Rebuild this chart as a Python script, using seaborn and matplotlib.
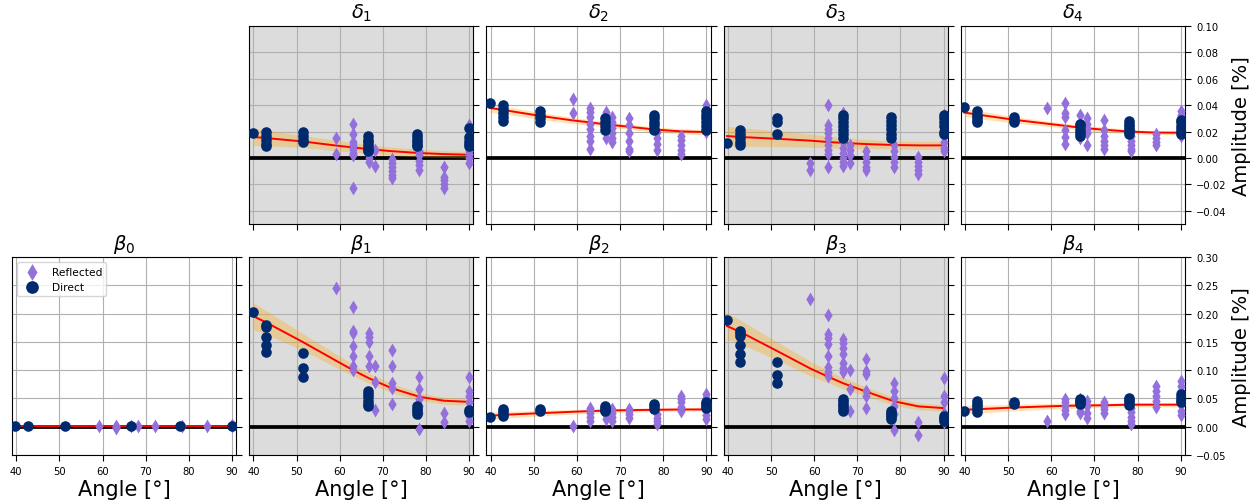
import seaborn as sns
import pandas as pd
import matplotlib.pyplot as plt

# angles (deg) where each kind of measurement was taken
direct_angles = [39.8, 42.8, 51.4, 66.6, 77.9, 90.0]
reflected_angles = [59.1, 63.1, 66.7, 68.2, 72.1, 78.5, 84.2, 90.0]
fit_angles = [39.8, 42.8, 51.4, 59.1, 63.1, 66.7, 72.1, 78.5, 84.2, 90.0]

# delta coefficients
d1_direct = [[0.019], [0.020, 0.017, 0.014, 0.011, 0.009], [0.020, 0.017, 0.014, 0.012],
             [0.017, 0.014, 0.012, 0.010, 0.008, 0.006, 0.005],
             [0.018, 0.016, 0.014, 0.012, 0.010, 0.009], [0.023, 0.016, 0.013, 0.011, 0.009]]
d1_reflected = [[0.015, 0.003], [0.026, 0.018, 0.012, 0.010, 0.007, 0.004, 0.002, -0.023],
                [0.010, 0.006, 0.003, 0.000, -0.003], [0.006, -0.006],
                [-0.0005, -0.004, -0.007, -0.010, -0.013, -0.015],
                [0.005, 0.002, -0.002, -0.005, -0.009], [-0.007, -0.014, -0.017, -0.020, -0.023],
                [0.025, 0.005, 0.003, 0.000, -0.004]]
d1_fit = [0.016, 0.0152, 0.0126, 0.0095, 0.008, 0.0068, 0.0052, 0.0038, 0.003, 0.0025]
d1_band = [0.0065, 0.006, 0.0045, 0.004, 0.0035, 0.0035, 0.003, 0.003, 0.0025, 0.0025]

d2_direct = [[0.0417], [0.040, 0.037, 0.034, 0.031, 0.028], [0.036, 0.033, 0.030, 0.027],
             [0.030, 0.027, 0.024, 0.021], [0.033, 0.030, 0.027, 0.025, 0.022, 0.021],
             [0.036, 0.033, 0.030, 0.027, 0.024, 0.021]]
d2_reflected = [[0.045, 0.034], [0.038, 0.035, 0.031, 0.026, 0.022, 0.017, 0.013, 0.007],
                [0.035, 0.032, 0.020, 0.015], [0.031, 0.027, 0.023, 0.019, 0.015, 0.012],
                [0.030, 0.025, 0.019, 0.013, 0.007, 0.005], [0.020, 0.015, 0.011, 0.006],
                [0.017, 0.014, 0.010, 0.006, 0.003], [0.040, 0.035, 0.029, 0.024, 0.020]]
d2_fit = [0.038, 0.0365, 0.032, 0.0285, 0.027, 0.0255, 0.0237, 0.0215, 0.0202, 0.0197]
d2_band = [0.0035, 0.003, 0.0025, 0.0025, 0.002, 0.002, 0.002, 0.002, 0.002, 0.002]

d3_direct = [[0.0116], [0.021, 0.018, 0.015, 0.012, 0.010], [0.030, 0.027, 0.018],
             [0.033, 0.030, 0.027, 0.024, 0.021, 0.018, 0.015],
             [0.031, 0.028, 0.025, 0.022, 0.018, 0.015], [0.033, 0.030, 0.027, 0.024, 0.020, 0.018]]
d3_reflected = [[-0.004, -0.009], [0.040, 0.025, 0.022, 0.019, 0.015, 0.010, 0.006, 0.003, -0.007],
                [0.034, 0.012, 0.008, 0.004, 0.000, -0.003, -0.006], [0.010, 0.006, 0.002, -0.004],
                [0.005, 0.001, -0.003, -0.007, -0.009], [0.010, 0.005, 0.001, -0.003, -0.007],
                [0.001, -0.003, -0.006, -0.009, -0.012], [0.033, 0.028, 0.012, 0.008, 0.005]]
d3_fit = [0.0167, 0.016, 0.0146, 0.0132, 0.0122, 0.0115, 0.0106, 0.0099, 0.0096, 0.0096]
d3_band = [0.0075, 0.007, 0.006, 0.005, 0.0045, 0.004, 0.0035, 0.003, 0.003, 0.003]

d4_direct = [[0.0386], [0.036, 0.033, 0.031, 0.029, 0.027], [0.031, 0.029, 0.027],
             [0.026, 0.024, 0.021, 0.019, 0.017], [0.028, 0.026, 0.024, 0.022, 0.020, 0.018],
             [0.029, 0.027, 0.024, 0.022, 0.020, 0.018]]
d4_reflected = [[0.038], [0.042, 0.034, 0.031, 0.021, 0.016, 0.011], [0.033, 0.018, 0.015],
                [0.030, 0.026, 0.022, 0.019, 0.010], [0.029, 0.021, 0.017, 0.013, 0.010, 0.007],
                [0.021, 0.017, 0.013, 0.010, 0.007, 0.005], [0.018, 0.015, 0.012, 0.010],
                [0.036, 0.033, 0.029, 0.017]]
d4_fit = [0.0345, 0.033, 0.029, 0.026, 0.0245, 0.023, 0.0215, 0.020, 0.0193, 0.0192]
d4_band = [0.003, 0.003, 0.0025, 0.002, 0.002, 0.002, 0.002, 0.0015, 0.0015, 0.0015]

# beta coefficients
b0_direct = [[0.001], [0.001], [0.001], [0.001], [0.001], [0.001]]
b0_reflected = [[0.001], [-0.002, 0.000, 0.002], [0.001], [0.001], [0.002], [0.001], [0.002],
                [0.001, 0.003]]
b0_fit = [0.001, 0.001, 0.001, 0.001, 0.001, 0.001, 0.001, 0.001, 0.001, 0.001]
b0_band = [0.0015, 0.0015, 0.0015, 0.0015, 0.0015, 0.0015, 0.0015, 0.0015, 0.0015, 0.0015]

b1_direct = [[0.203], [0.180, 0.177, 0.159, 0.144, 0.133], [0.130, 0.104, 0.088],
             [0.064, 0.058, 0.052, 0.046, 0.040, 0.037], [0.037, 0.032, 0.027, 0.023], [0.029, 0.026]]
b1_reflected = [[0.246], [0.212, 0.170, 0.166, 0.142, 0.125, 0.108, 0.100],
                [0.165, 0.158, 0.149, 0.125, 0.108], [0.108, 0.080, 0.030],
                [0.136, 0.108, 0.078, 0.068, 0.041], [0.088, 0.067, 0.049, 0.037, 0.025, -0.004],
                [0.025, 0.008], [0.088, 0.064, 0.055, 0.043, 0.019, 0.011]]
b1_fit = [0.196, 0.185, 0.150, 0.117, 0.100, 0.086, 0.068, 0.053, 0.046, 0.044]
b1_band = [0.024, 0.021, 0.015, 0.012, 0.010, 0.009, 0.008, 0.007, 0.006, 0.006]

b2_direct = [[0.018], [0.031, 0.027, 0.023, 0.019], [0.031, 0.028], [0.037, 0.034, 0.030, 0.028],
             [0.040, 0.036, 0.031], [0.043, 0.040, 0.037, 0.034]]
b2_reflected = [[0.002], [0.034, 0.030, 0.025, 0.018, 0.011], [0.034, 0.027, 0.020, 0.014],
                [0.031, 0.025, 0.018, 0.010], [0.031, 0.027, 0.022, 0.016],
                [0.022, 0.016, 0.010, 0.004], [0.055, 0.049, 0.043, 0.035, 0.028],
                [0.058, 0.050, 0.040, 0.030, 0.020, 0.014]]
b2_fit = [0.0194, 0.021, 0.024, 0.0265, 0.0277, 0.0285, 0.0294, 0.030, 0.0305, 0.0306]
b2_band = [0.007, 0.006, 0.005, 0.004, 0.004, 0.0035, 0.0035, 0.003, 0.003, 0.003]

b3_direct = [[0.188], [0.170, 0.165, 0.160, 0.144, 0.128, 0.115], [0.115, 0.092, 0.077],
             [0.049, 0.045, 0.040, 0.036, 0.031, 0.027], [0.028, 0.025, 0.021, 0.017, 0.014],
             [0.019, 0.016, 0.013, 0.010]]
b3_reflected = [[0.226], [0.198, 0.164, 0.157, 0.146, 0.125, 0.105, 0.096, 0.090],
                [0.155, 0.148, 0.140, 0.128, 0.112, 0.104, 0.096], [0.100, 0.067, 0.027],
                [0.120, 0.099, 0.093, 0.064, 0.055, 0.033], [0.078, 0.064, 0.050, 0.037, 0.022, -0.005],
                [0.008, -0.015], [0.087, 0.055, 0.043, 0.025, 0.008]]
b3_fit = [0.178, 0.168, 0.134, 0.103, 0.089, 0.077, 0.062, 0.045, 0.036, 0.033]
b3_band = [0.024, 0.021, 0.016, 0.013, 0.011, 0.010, 0.008, 0.007, 0.006, 0.006]

b4_direct = [[0.028], [0.046, 0.041, 0.036, 0.031, 0.026], [0.043, 0.041],
             [0.049, 0.046, 0.043, 0.040], [0.050, 0.047, 0.043, 0.039], [0.058, 0.053, 0.048, 0.043]]
b4_reflected = [[0.011], [0.049, 0.043, 0.036, 0.029, 0.022], [0.049, 0.042, 0.035, 0.028, 0.024],
                [0.046, 0.036, 0.025, 0.015], [0.043, 0.037, 0.031, 0.025],
                [0.034, 0.026, 0.018, 0.010, 0.004], [0.072, 0.063, 0.055, 0.045, 0.035],
                [0.081, 0.072, 0.063, 0.050, 0.038, 0.028, 0.020]]
b4_fit = [0.030, 0.031, 0.034, 0.036, 0.037, 0.0375, 0.038, 0.039, 0.039, 0.039]
b4_band = [0.008, 0.007, 0.006, 0.005, 0.005, 0.0045, 0.004, 0.004, 0.004, 0.004]

top_ticks = [-0.04, -0.02, 0.00, 0.02, 0.04, 0.06, 0.08, 0.10]
bottom_ticks = [-0.05, 0.00, 0.05, 0.10, 0.15, 0.20, 0.25, 0.30]
x_ticks = [40, 50, 60, 70, 80, 90]

REFL = "mediumpurple"
DIRECT = "#002a6e"


def to_frame(angles, groups):
    rows = [(a, v) for a, vals in zip(angles, groups) for v in vals]
    return pd.DataFrame(rows, columns=["angle", "amp"])


panels = [
    (0, 1, r"$\delta_1$", d1_direct, d1_reflected, d1_fit, d1_band),
    (0, 2, r"$\delta_2$", d2_direct, d2_reflected, d2_fit, d2_band),
    (0, 3, r"$\delta_3$", d3_direct, d3_reflected, d3_fit, d3_band),
    (0, 4, r"$\delta_4$", d4_direct, d4_reflected, d4_fit, d4_band),
    (1, 0, r"$\beta_0$", b0_direct, b0_reflected, b0_fit, b0_band),
    (1, 1, r"$\beta_1$", b1_direct, b1_reflected, b1_fit, b1_band),
    (1, 2, r"$\beta_2$", b2_direct, b2_reflected, b2_fit, b2_band),
    (1, 3, r"$\beta_3$", b3_direct, b3_reflected, b3_fit, b3_band),
    (1, 4, r"$\beta_4$", b4_direct, b4_reflected, b4_fit, b4_band),
]

fig, axes = plt.subplots(2, 5, figsize=(12.6, 5.02), dpi=100)
fig.subplots_adjust(left=0.0095, right=0.9405, top=0.946, bottom=0.0916,
                    wspace=0.058, hspace=0.167)
axes[0, 0].axis("off")

for row, col, title, direct, reflected, fit, band in panels:
    ax = axes[row, col]
    if col in (1, 3):
        ax.set_facecolor("gainsboro")
    ax.set_axisbelow(True)
    ax.grid(True, color="#b0b0b0", lw=0.8)

    ax.axhline(0, color="black", lw=2.7, zorder=2)
    lower = [f - b for f, b in zip(fit, band)]
    upper = [f + b for f, b in zip(fit, band)]
    ax.fill_between(fit_angles, lower, upper, color="orange", alpha=0.3, lw=0, zorder=2.2)
    sns.lineplot(x=fit_angles, y=fit, ax=ax, color="red", lw=1.4, errorbar=None, zorder=2.5)

    lab_r = "Reflected" if col == 0 else None
    lab_d = "Direct" if col == 0 else None
    sns.scatterplot(data=to_frame(reflected_angles, reflected), x="angle", y="amp", ax=ax,
                    marker="d", s=50, color=REFL, linewidth=0, zorder=3,
                    label=lab_r, legend=False)
    sns.scatterplot(data=to_frame(direct_angles, direct), x="angle", y="amp", ax=ax,
                    marker="o", s=58, color=DIRECT, linewidth=0, zorder=3.1,
                    label=lab_d, legend=False)

    ax.set_title(title, fontsize=14)
    ax.set_xlim(39, 91)
    ax.set_xticks(x_ticks)
    ax.yaxis.tick_right()
    ax.tick_params(labelsize=7.2, length=4.5)
    if row == 0:
        ax.set_ylim(-0.05, 0.10)
        ax.set_yticks(top_ticks)
        ax.tick_params(labelbottom=False)
        ax.set_xlabel("")
    else:
        ax.set_ylim(-0.05, 0.30)
        ax.set_yticks(bottom_ticks)
        ax.set_xlabel("Angle [°]", fontsize=15, labelpad=2)
    if col == 4:
        ax.yaxis.set_label_position("right")
        ax.set_ylabel("Amplitude [%]", fontsize=14)
    else:
        ax.tick_params(labelright=False)
        ax.set_ylabel("")

axes[1, 0].legend(loc="upper left", fontsize=7.7, markerscale=1.2)

fig.savefig("out.png", dpi=100)
